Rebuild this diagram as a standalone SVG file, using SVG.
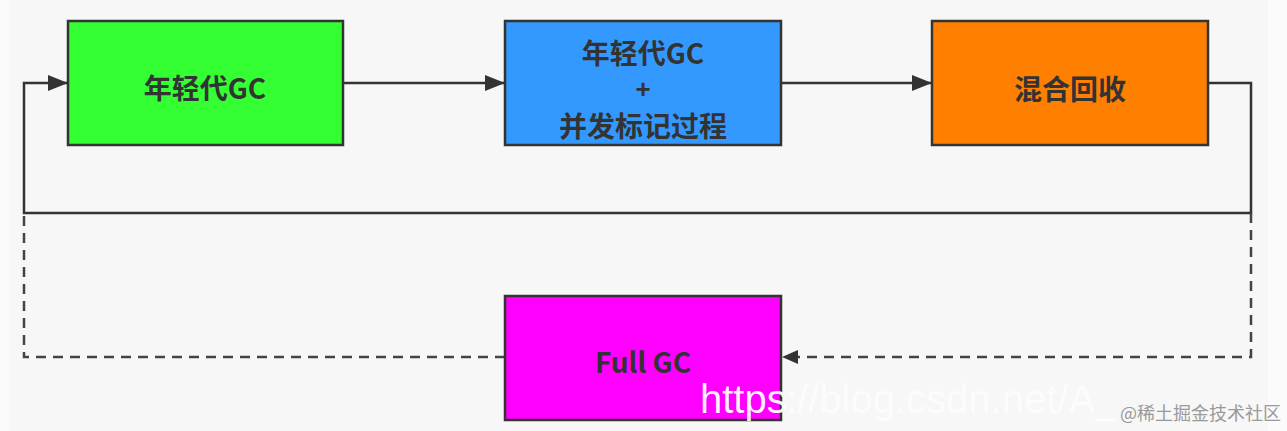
<svg xmlns="http://www.w3.org/2000/svg" width="1287" height="431" viewBox="0 0 1287 431">
<style>
.box{stroke:#333;stroke-width:2.5}
.lbl{font-family:"Noto Sans CJK SC","Noto Sans",sans-serif;font-weight:bold;font-size:28px;fill:#333;text-anchor:middle;dominant-baseline:central}
.plus{font-family:"Liberation Sans",sans-serif;font-weight:bold;font-size:26px;fill:#333;text-anchor:middle;dominant-baseline:central}
.ln{fill:none;stroke:#333;stroke-width:2.5}
.dash{fill:none;stroke:#444;stroke-width:2.5;stroke-dasharray:10 7}
</style>
<defs>
<marker id="ah" viewBox="0 0 20 16" refX="19" refY="8" markerWidth="20" markerHeight="16" markerUnits="userSpaceOnUse" orient="auto">
<path d="M0,0 L20,8 L0,16 Z" fill="#333"/>
</marker>
<marker id="ahs" viewBox="0 0 16 14" refX="15" refY="7" markerWidth="16" markerHeight="14" markerUnits="userSpaceOnUse" orient="auto">
<path d="M0,0 L16,7 L0,14 Z" fill="#333"/>
</marker>
</defs>
<rect x="0" y="0" width="1287" height="431" fill="#fbfbfb"/>
<rect x="10" y="0" width="1258" height="431" fill="#f6f7f6"/>
<g id="connectors">
<path class="ln" d="M343,83 H504" marker-end="url(#ah)"/>
<path class="ln" d="M781,83 H931" marker-end="url(#ah)"/>
<path class="ln" d="M1208,83 H1251 V213 H24 V83 H67" marker-end="url(#ah)"/>
<path class="dash" d="M1251,213 V357 H783" marker-end="url(#ahs)"/>
<path class="dash" d="M505,357 H24 V213"/>
</g>
<g id="n1">
<rect class="box" x="68" y="21" width="275" height="124" fill="#33ff33"/>
<text class="lbl" x="205" y="87">年轻代GC</text>
</g>
<g id="n2">
<rect class="box" x="505" y="21" width="276" height="124" fill="#3399ff"/>
<text class="lbl" x="643" y="52">年轻代GC</text>
<text class="plus" x="643" y="89">+</text>
<text class="lbl" x="643" y="125">并发标记过程</text>
</g>
<g id="n3">
<rect class="box" x="932" y="21" width="276" height="124" fill="#ff8000"/>
<text class="lbl" x="1070" y="88">混合回收</text>
</g>
<g id="n4">
<rect class="box" x="505" y="296" width="276" height="124" fill="#ff00ff"/>
<text class="lbl" x="643" y="361">Full GC</text>
</g>
<g id="watermark">
<text x="700" y="413" font-family="Liberation Sans,sans-serif" font-size="40" fill="#ffffff" fill-opacity="0.95">https</text>
<text x="786" y="413" font-family="Liberation Sans,sans-serif" font-size="40" fill="#ffffff" fill-opacity="0.7">://blog.csdn.net/A_</text>
<text x="1120" y="420" font-family="Noto Sans CJK SC,sans-serif" font-size="18" fill="#9a9a9a">@稀土掘金技术社区</text>
</g>
</svg>
